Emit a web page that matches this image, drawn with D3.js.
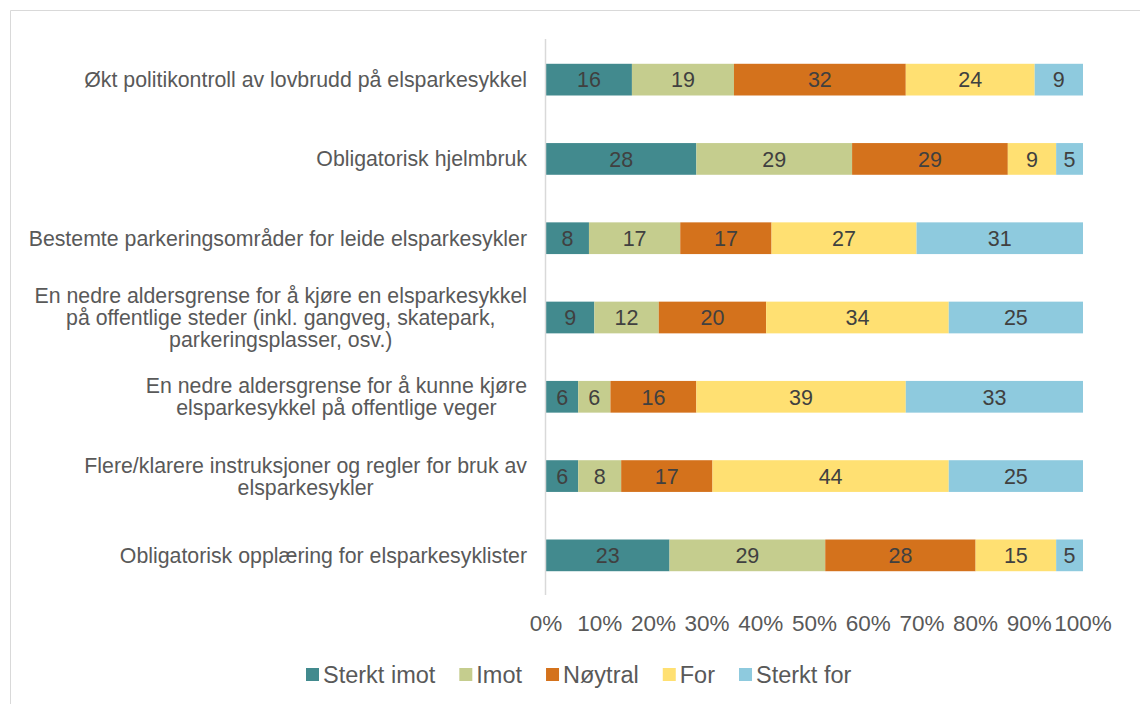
<!DOCTYPE html>
<html>
<head>
<meta charset="utf-8">
<script src="https://cdn.jsdelivr.net/npm/d3@7"></script>
<style>
  body { margin: 0; background: #fff; }
  svg { font-family: "Liberation Sans", Arial, sans-serif; }
</style>
</head>
<body>
<svg id="chart" width="1140" height="704"></svg>
<script>
// Data
var categories = [
  ["Økt politikontroll av lovbrudd på elsparkesykkel"],
  ["Obligatorisk hjelmbruk"],
  ["Bestemte parkeringsområder for leide elsparkesykler"],
  ["En nedre aldersgrense for å kjøre en elsparkesykkel", "på offentlige steder (inkl. gangveg, skatepark,", "parkeringsplasser, osv.)"],
  ["En nedre aldersgrense for å kunne kjøre", "elsparkesykkel på offentlige veger"],
  ["Flere/klarere instruksjoner og regler for bruk av", "elsparkesykler"],
  ["Obligatorisk opplæring for elsparkesyklister"]
];
var seriesNames = ["Sterkt imot", "Imot", "Nøytral", "For", "Sterkt for"];
var sterktImot = [16, 28, 8, 9, 6, 6, 23];
var imot = [19, 29, 17, 12, 6, 8, 29];
var noytral = [32, 29, 17, 20, 16, 17, 28];
var forVals = [24, 9, 27, 34, 39, 44, 15];
var sterktFor = [9, 5, 31, 25, 33, 25, 5];
var tickValues = [0, 10, 20, 30, 40, 50, 60, 70, 80, 90, 100];
var colors = ["#428a8e", "#c5cd8e", "#d4721c", "#ffe072", "#8ecade"];

var svg = d3.select("#chart");

// frame
svg.append("path")
  .attr("d", "M10.5,704 L10.5,10.5 L1140,10.5")
  .attr("fill", "none")
  .attr("stroke", "#d9d9d9")
  .attr("stroke-width", 1);

var rows = categories.map(function (c, i) {
  return {
    idx: i,
    "Sterkt imot": sterktImot[i],
    "Imot": imot[i],
    "Nøytral": noytral[i],
    "For": forVals[i],
    "Sterkt for": sterktFor[i]
  };
});

var stacked = d3.stack().keys(seriesNames).offset(d3.stackOffsetExpand)(rows);

var xscale = d3.scaleLinear().domain([0, 1]).range([546, 1083]);
var yscale = d3.scaleBand().domain(d3.range(categories.length)).range([40, 595]).padding(0.6).paddingOuter(0.3);

var layers = svg.append("g").selectAll("g")
  .data(stacked)
  .join("g")
  .attr("fill", function (d, i) { return colors[i]; });

layers.selectAll("rect")
  .data(function (d) { return d; })
  .join("rect")
  .attr("x", function (d) { return xscale(d[0]); })
  .attr("y", function (d) { return yscale(d.data.idx); })
  .attr("width", function (d) { return xscale(d[1]) - xscale(d[0]); })
  .attr("height", yscale.bandwidth());

// data labels
stacked.forEach(function (layer) {
  svg.append("g").selectAll("text")
    .data(layer)
    .join("text")
    .attr("x", function (d) { return (xscale(d[0]) + xscale(d[1])) / 2; })
    .attr("y", function (d) { return yscale(d.data.idx) + yscale.bandwidth() / 2; })
    .attr("dy", "0.36em")
    .attr("text-anchor", "middle")
    .attr("font-size", 21.5)
    .attr("fill", "#404040")
    .text(function (d) { return d.data[layer.key]; });
});

// vertical axis line
svg.append("line")
  .attr("x1", 545.5).attr("x2", 545.5)
  .attr("y1", 39).attr("y2", 595)
  .attr("stroke", "#d9d9d9")
  .attr("stroke-width", 1.5);

// category labels (wrapped lines centred within a right-aligned block)
var labelRight = 527;
var lineH = 22;
categories.forEach(function (lines, i) {
  var g = svg.append("g");
  var texts = lines.map(function (line) {
    return g.append("text")
      .attr("font-size", 21.3)
      .attr("fill", "#595959")
      .attr("text-anchor", "middle")
      .text(line);
  });
  var maxW = d3.max(texts, function (t) { return t.node().getComputedTextLength(); });
  var cx = labelRight - maxW / 2;
  var cy = yscale(i) + yscale.bandwidth() / 2;
  texts.forEach(function (t, j) {
    t.attr("x", cx)
      .attr("y", cy + (j - (lines.length - 1) / 2) * lineH)
      .attr("dy", "0.35em");
  });
});

// x axis tick labels
svg.append("g").selectAll("text")
  .data(tickValues)
  .join("text")
  .attr("x", function (d) { return xscale(d / 100); })
  .attr("y", 623)
  .attr("dy", "0.35em")
  .attr("text-anchor", "middle")
  .attr("font-size", 22.5)
  .attr("fill", "#595959")
  .text(function (d) { return d + "%"; });

// legend
var legend = svg.append("g");
var lx = 306;
seriesNames.forEach(function (name, i) {
  legend.append("rect")
    .attr("x", lx).attr("y", 668)
    .attr("width", 13).attr("height", 13)
    .attr("fill", colors[i]);
  var t = legend.append("text")
    .attr("x", lx + 17)
    .attr("y", 675)
    .attr("dy", "0.35em")
    .attr("font-size", 23.5)
    .attr("fill", "#595959")
    .text(name);
  lx += 17 + t.node().getComputedTextLength() + 24;
});
</script>
</body>
</html>
